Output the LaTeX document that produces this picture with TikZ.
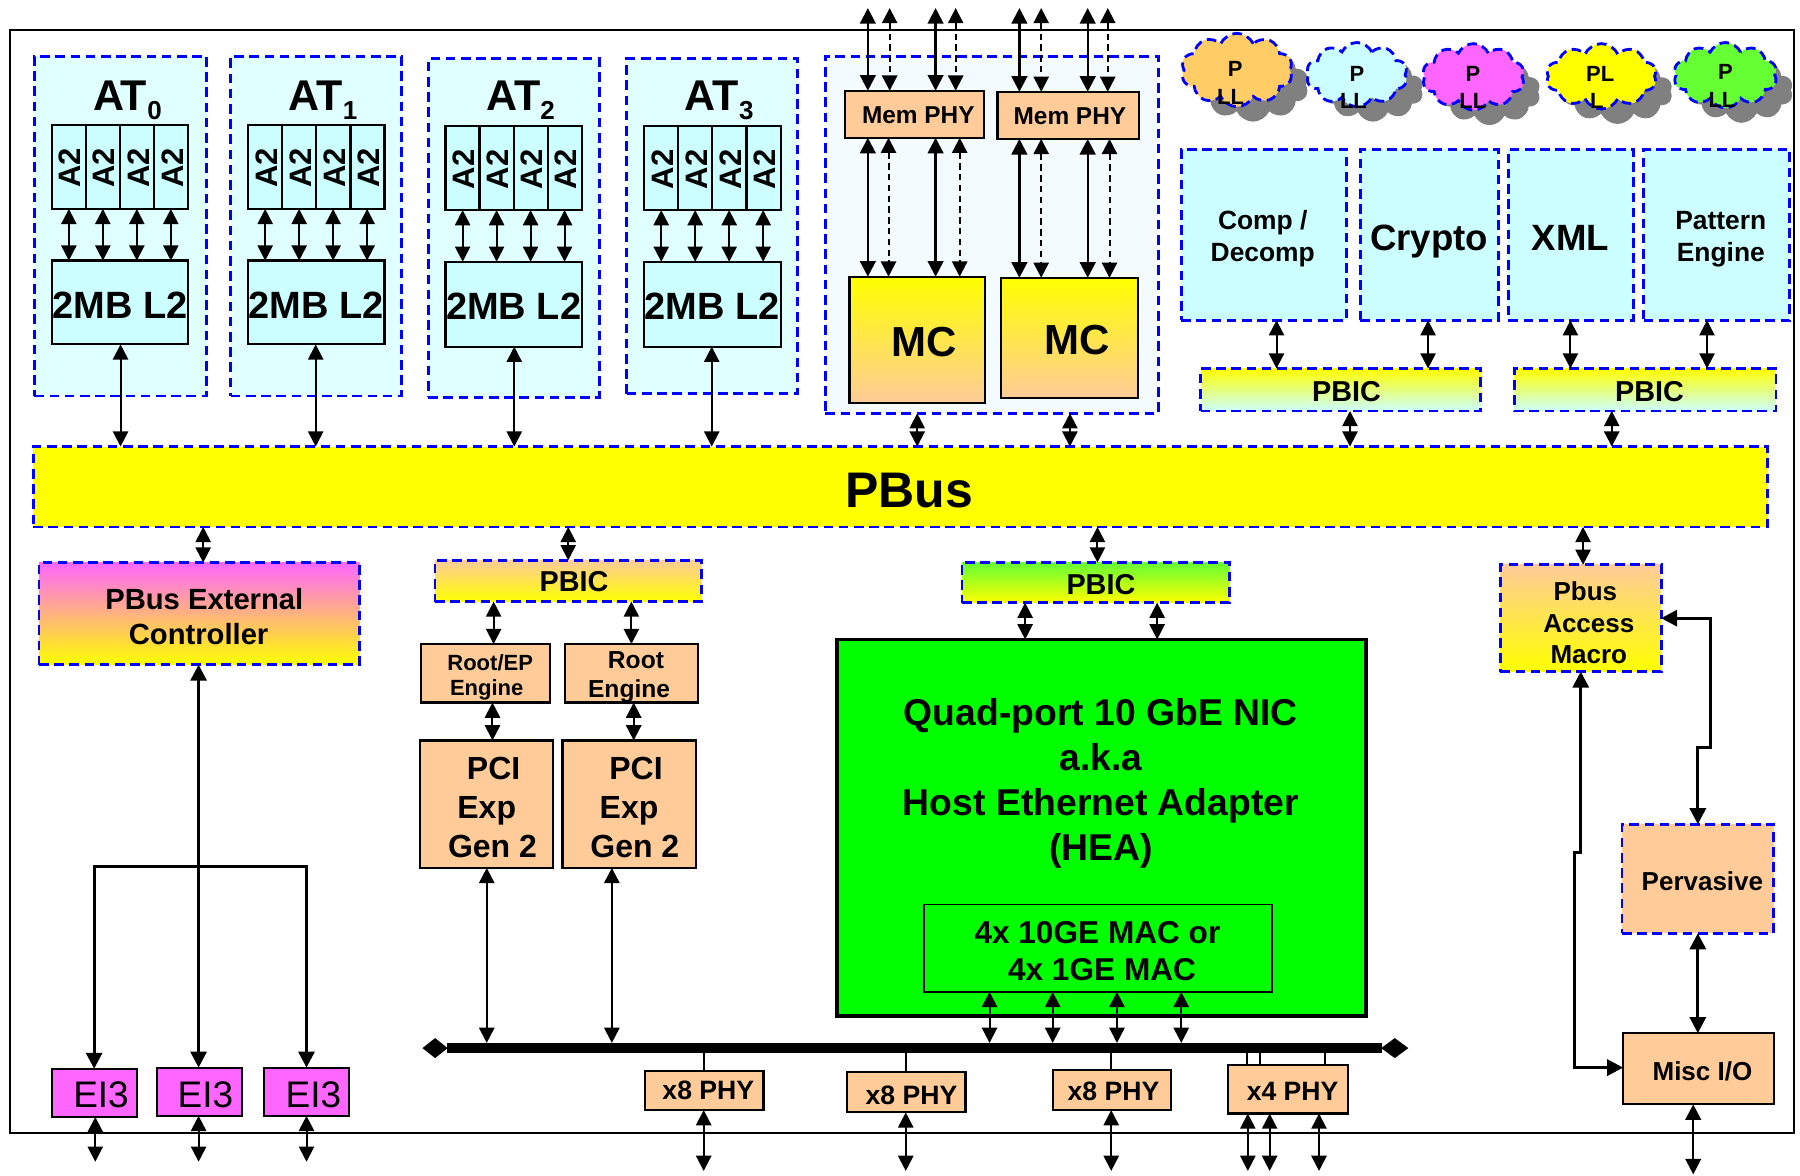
\documentclass[tikz,border=0pt]{standalone}
\usepackage{fontspec}
\setmainfont{Liberation Sans}
\usetikzlibrary{arrows.meta,shapes.geometric,shapes.symbols}
\tikzset{
  plainbox/.style={rectangle,draw=black,line width=1.1pt,inner sep=0pt,outer sep=0pt},
  dashbox/.style={rectangle,draw=blu,line width=1.4pt,dash pattern=on 4.8pt off 2.8pt,inner sep=0pt,outer sep=0pt},
  lbl/.style={inner sep=0pt,outer sep=0pt,align=center,text=black},
  dbl/.style={arrows={Triangle[width=7.6pt,length=7.6pt]-Triangle[width=7.6pt,length=7.6pt]},line width=1pt,draw=black},
  tdbl/.style={arrows={Triangle[width=8pt,length=8pt]-Triangle[width=8pt,length=8pt]},line width=1.5pt,draw=black},
  ddbl/.style={dbl,dash pattern=on 3.2pt off 2.2pt},
  mdbl/.style={arrows={Triangle[width=7.8pt,length=7.8pt]-Triangle[width=7.8pt,length=7.8pt]},line width=1.2pt,draw=black},
  stub/.style={line width=1pt,draw=black},
  cloudfill/.style={cloud,cloud puffs=10,cloud puff arc=130,cloud ignores aspect,inner sep=0pt,outer sep=0pt},
}
\definecolor{peach}{HTML}{FFCC99}
\definecolor{pale}{HTML}{CCFFFF}
\definecolor{paler}{HTML}{E0FFFF}
\definecolor{memb}{HTML}{F4FBFF}
\definecolor{mag}{HTML}{FF66FF}
\definecolor{lime}{HTML}{66FF33}
\definecolor{grn}{HTML}{00FF00}
\definecolor{shad}{HTML}{808080}
\definecolor{orng}{HTML}{FFCC66}
\definecolor{yel}{HTML}{FFFF00}
\definecolor{blu}{HTML}{0000FF}
% name x1 y1 x2 y2 style
\def\boxat#1#2#3#4#5#6{\pgfmathsetmacro\bw{(#4-#2)*0.574}\pgfmathsetmacro\bh{(#5-#3)*0.574}%
  \node[#6,minimum width=\bw pt,minimum height=\bh pt] (#1) at ({(#2+#4)/2},{(#3+#5)/2}) {};}
% name x y size text
\def\txt#1#2#3#4#5{\node[lbl,font=\bfseries\fontsize{#4}{#4}\selectfont] (#1) at ({#2},{#3}) {#5};}
% style x from to
\def\vconn#1#2#3#4{\coordinate (tmpx) at (#2,0); \draw[#1] (#3 -| tmpx) -- (#4 -| tmpx);}
% name x1 y1 x2 y2 colour
\def\cloudat#1#2#3#4#5#6{\pgfmathsetmacro\bw{(#4-#2)*0.574}\pgfmathsetmacro\bh{(#5-#3)*0.574}%
  \node[cloudfill,fill=shad,minimum width=\bw pt,minimum height=\bh pt] (#1s) at ({(#2+#4)/2+14},{(#3+#5)/2+13}) {};
  \node[cloudfill,fill=#6,draw=blu,line width=1.4pt,dash pattern=on 4.8pt off 2.8pt,minimum width=\bw pt,minimum height=\bh pt] (#1) at ({(#2+#4)/2},{(#3+#5)/2}) {};}
\begin{document}
\begin{tikzpicture}[x=0.574pt,y=-0.574pt]
\useasboundingbox (0,0) rectangle (1568,1023.6);
\fill[white] (0,0) rectangle (1568,1023.6);
\coordinate (ytop) at (0,7);
\coordinate (ybotA) at (0,1012);
\coordinate (ybotB) at (0,1020);
\coordinate (ybotC) at (0,1023);
\draw[line width=1pt,black] (9,26) rectangle (1563,987);

% AT blocks
\foreach \i/\xa/\ya/\xb/\yb/\gx/\gy/\gz/\ly/\lz in {
  0/30/49/180/345/45/109/182/227/300,
  1/201/49/350/345/216/109/182/227/300,
  2/373/51/522/346/388/110/183/228/302,
  3/546/51/695/343/561/110/183/228/302}{
  \boxat{AT\i}{\xa}{\ya}{\xb}{\yb}{dashbox,fill=paler}
  \foreach \k in {0,1,2,3}{
    \pgfmathsetmacro\ca{\gx+\k*29.75}
    \pgfmathsetmacro\cb{\gx+(\k+1)*29.75}
    \boxat{A\i c\k}{\ca}{\gy}{\cb}{\gz}{plainbox,fill=pale}
    \pgfmathsetmacro\cm{(\ca+\cb)/2}
    \node[lbl,rotate=90,font=\bfseries\fontsize{15.5}{15.5}\selectfont] (A\i t\k) at ({\cm+1},{(\gy+\gz)/2+1}) {A2};
  }
  \pgfmathsetmacro\cx{\gx+119}
  \boxat{L\i}{\gx}{\ly}{\cx}{\lz}{plainbox,fill=pale}
  \txt{L\i t}{\gx+59.5}{(\ly+\lz)/2+2}{19}{2MB L2}
  \foreach \k in {0,1,2,3}{
    \pgfmathsetmacro\ax{\gx+15+\k*29.6}
    \vconn{dbl}{\ax}{A\i c\k.south}{L\i.north}
  }
  \txt{AT\i t}{(\xa+\xb)/2+6}{87}{21.5}{AT\raisebox{-4.5pt}{\fontsize{13}{13}\selectfont\i}}
}

% Mem block
\boxat{Mem}{719}{49}{1009}{360}{dashbox,fill=memb}
\boxat{PHY1}{736}{79}{857}{120}{plainbox,fill=peach}
\boxat{PHY2}{869}{80}{992}{121}{plainbox,fill=peach}
\txt{PHY1t}{800}{100}{12.2}{Mem PHY}
\txt{PHY2t}{932}{101}{12.2}{Mem PHY}
\boxat{MC1}{740}{241}{858}{351}{plainbox,top color=yel,bottom color=peach}
\boxat{MC2}{872}{242}{991}{347}{plainbox,top color=yel,bottom color=peach}
\txt{MC1t}{805}{298}{21}{MC}
\txt{MC2t}{938}{296}{21}{MC}
\vconn{mdbl}{756}{ytop}{PHY1.north}
\vconn{ddbl}{775}{ytop}{PHY1.north}
\vconn{mdbl}{815}{ytop}{PHY1.north}
\vconn{ddbl}{832.5}{ytop}{PHY1.north}
\vconn{mdbl}{888}{ytop}{PHY2.north}
\vconn{ddbl}{907}{ytop}{PHY2.north}
\vconn{mdbl}{947.5}{ytop}{PHY2.north}
\vconn{ddbl}{965}{ytop}{PHY2.north}
\vconn{mdbl}{756}{PHY1.south}{MC1.north}
\vconn{ddbl}{774}{PHY1.south}{MC1.north}
\vconn{mdbl}{815}{PHY1.south}{MC1.north}
\vconn{ddbl}{836}{PHY1.south}{MC1.north}
\vconn{mdbl}{888}{PHY2.south}{MC2.north}
\vconn{ddbl}{907}{PHY2.south}{MC2.north}
\vconn{mdbl}{947.5}{PHY2.south}{MC2.north}
\vconn{ddbl}{966.5}{PHY2.south}{MC2.north}

% Clouds
\cloudat{Cl1}{1029}{29}{1126}{93}{orng}
\cloudat{Cl2}{1138}{37}{1226}{93}{pale}
\cloudat{Cl3}{1239}{38}{1328}{96}{mag}
\cloudat{Cl4}{1347}{38}{1443}{95}{yel}
\cloudat{Cl5}{1458}{37}{1548}{94}{lime}
\txt{Cl1a}{1076}{60}{11}{P}
\txt{Cl1b}{1072}{84}{11}{LL}
\txt{Cl2a}{1182}{64}{11}{P}
\txt{Cl2b}{1179}{88}{11}{LL}
\txt{Cl3a}{1283}{64}{11}{P}
\txt{Cl3b}{1283}{88}{11}{LL}
\txt{Cl4a}{1394}{64}{11}{PL}
\txt{Cl4b}{1391}{88}{11}{L}
\txt{Cl5a}{1503}{63}{11}{P}
\txt{Cl5b}{1500}{87}{11}{LL}

% Accelerators
\boxat{Comp}{1029}{130}{1173}{279}{dashbox,fill=pale}
\boxat{Cry}{1185}{130}{1305}{279}{dashbox,fill=pale}
\boxat{XML}{1314}{130}{1423}{279}{dashbox,fill=pale}
\boxat{Pat}{1432}{130}{1559}{279}{dashbox,fill=pale}
\node[lbl,font=\bfseries\fontsize{13.2}{16}\selectfont] (Compt) at (1100,208) {Comp /\\Decomp};
\txt{Cryt}{1245}{210}{18.3}{Crypto}
\txt{XMLt}{1368}{207}{18.3}{XML}
\node[lbl,font=\bfseries\fontsize{13.2}{16}\selectfont] (Patt) at (1499,208) {Pattern\\Engine};
\boxat{PB1}{1046}{321}{1290}{358}{dashbox,top color=yel,bottom color=pale}
\boxat{PB2}{1319}{321}{1547}{358}{dashbox,top color=yel,bottom color=pale}
\txt{PB1t}{1173}{341}{14.4}{PBIC}
\txt{PB2t}{1437}{341}{14.4}{PBIC}

% PBus
\boxat{PBus}{29}{389}{1540}{459}{dashbox,fill=yel}
\txt{PBust}{792}{427}{25}{PBus}
\vconn{dbl}{105}{L0.south}{PBus.north}
\vconn{dbl}{275}{L1.south}{PBus.north}
\vconn{dbl}{448}{L2.south}{PBus.north}
\vconn{dbl}{620}{L3.south}{PBus.north}
\vconn{dbl}{799}{Mem.south}{PBus.north}
\vconn{dbl}{932}{Mem.south}{PBus.north}
\vconn{dbl}{1112}{Comp.south}{PB1.north}
\vconn{dbl}{1244}{Cry.south}{PB1.north}
\vconn{dbl}{1368}{XML.south}{PB2.north}
\vconn{dbl}{1487}{Pat.south}{PB2.north}
\vconn{dbl}{1176}{PB1.south}{PBus.north}
\vconn{dbl}{1404}{PB2.south}{PBus.north}

% Lower row
\boxat{PE}{34}{490}{313}{579}{dashbox,top color=mag,bottom color=yel}
\txt{PEa}{178}{522}{14.6}{PBus External}
\txt{PEb}{173}{552}{14.6}{Controller}
\boxat{PB3}{379}{488}{611}{524}{dashbox,top color=peach,bottom color=yel}
\txt{PB3t}{500}{507}{14.4}{PBIC}
\boxat{PB4}{838}{490}{1071}{525}{dashbox,top color=lime,bottom color=yel}
\txt{PB4t}{959}{509}{14.4}{PBIC}
\boxat{PAM}{1307}{492}{1447}{585}{dashbox,top color=peach,bottom color=yel}
\txt{PAMa}{1381}{515}{13}{Pbus}
\txt{PAMb}{1384}{543}{13}{Access}
\txt{PAMc}{1384}{570}{13}{Macro}
\vconn{dbl}{177}{PBus.south}{PE.north}
\vconn{dbl}{495}{PBus.south}{PB3.north}
\vconn{dbl}{956}{PBus.south}{PB4.north}
\vconn{dbl}{1379}{PBus.south}{PAM.north}

% PCI
\boxat{RE1}{367}{561}{479}{612}{plainbox,fill=peach}
\boxat{RE2}{492}{561}{608}{612}{plainbox,fill=peach}
\txt{RE1a}{427}{577}{11}{Root/EP}
\txt{RE1b}{424}{601}{11}{Engine}
\txt{RE2a}{554}{575}{12.3}{Root}
\txt{RE2b}{548}{602}{12.3}{Engine}
\boxat{PCI1}{366}{645}{482}{756}{plainbox,fill=peach}
\boxat{PCI2}{490}{645}{606}{756}{plainbox,fill=peach}
\txt{P1a}{430}{669}{16}{PCI}
\txt{P1b}{424}{706}{16}{Exp}
\txt{P1c}{429}{737}{16}{Gen 2}
\txt{P2a}{554}{669}{16}{PCI}
\txt{P2b}{548}{706}{16}{Exp}
\txt{P2c}{553}{737}{16}{Gen 2}
\vconn{dbl}{430}{PB3.south}{RE1.north}
\vconn{dbl}{550}{PB3.south}{RE2.north}
\vconn{dbl}{429}{RE1.south}{PCI1.north}
\vconn{dbl}{552}{RE2.south}{PCI2.north}

% HEA
\boxat{HEA}{729}{557}{1190}{885}{plainbox,line width=1.8pt,fill=grn}
\node[lbl,font=\bfseries\fontsize{18.66}{22.4}\selectfont] (HEAt) at (959,682.5) {Quad-port 10 GbE NIC\\a.k.a\\Host Ethernet Adapter\\(HEA)};
\boxat{MAC}{805}{788}{1108}{864}{plainbox,line width=0.8pt}
\txt{MACa}{956}{812}{15.8}{4x 10GE MAC or}
\txt{MACb}{960}{845}{15.8}{4x 1GE MAC}
\vconn{dbl}{893}{PB4.south}{HEA.north}
\vconn{dbl}{1008}{PB4.south}{HEA.north}

% Bus
\boxat{Bus}{389}{908.5}{1204}{917.5}{rectangle,fill=black,inner sep=0pt,outer sep=0pt}
\node[diamond,fill=black,inner sep=0pt,outer sep=0pt,minimum width=12.6pt,minimum height=10pt] (BusL) at (379,913) {};
\node[diamond,fill=black,inner sep=0pt,outer sep=0pt,minimum width=13.6pt,minimum height=10pt] (BusR) at (1215,913) {};
\vconn{dbl}{424}{PCI1.south}{Bus.north}
\vconn{dbl}{533}{PCI2.south}{Bus.north}
\vconn{dbl}{862}{MAC.south}{Bus.north}
\vconn{dbl}{917}{MAC.south}{Bus.north}
\vconn{dbl}{973}{MAC.south}{Bus.north}
\vconn{dbl}{1029}{MAC.south}{Bus.north}

% PHYs
\boxat{X1}{562}{933}{665}{967}{plainbox,fill=peach}
\boxat{X2}{738}{934}{841}{969}{plainbox,fill=peach}
\boxat{X3}{917}{932}{1020}{967}{plainbox,fill=peach}
\boxat{X4}{1070}{928}{1174}{970}{plainbox,fill=peach}
\txt{X1t}{617}{950}{13.3}{x8 PHY}
\txt{X2t}{794}{954}{13.3}{x8 PHY}
\txt{X3t}{970}{951}{13.3}{x8 PHY}
\txt{X4t}{1126}{951}{13.3}{x4 PHY}
\vconn{stub}{613}{Bus.south}{X1.north}
\vconn{stub}{789}{Bus.south}{X2.north}
\vconn{stub}{968}{Bus.south}{X3.north}
\vconn{stub}{1086}{Bus.south}{X4.north}
\vconn{stub}{1098}{Bus.south}{X4.north}
\vconn{stub}{1154}{Bus.south}{X4.north}
\vconn{dbl}{613}{X1.south}{ybotB}
\vconn{dbl}{789}{X2.south}{ybotB}
\vconn{dbl}{968}{X3.south}{ybotB}
\vconn{dbl}{1087}{X4.south}{ybotB}
\vconn{dbl}{1106}{X4.south}{ybotB}
\vconn{dbl}{1149}{X4.south}{ybotB}

% EI3
\boxat{EI1}{45}{931}{119}{973}{plainbox,fill=mag}
\boxat{EI2}{137}{930}{211}{972}{plainbox,fill=mag}
\boxat{EI3}{230}{930}{304}{972}{plainbox,fill=mag}
\node[lbl,font=\fontsize{18.5}{18.5}\selectfont] (EI1t) at (88,954) {EI3};
\node[lbl,font=\fontsize{18.5}{18.5}\selectfont] (EI2t) at (179,954) {EI3};
\node[lbl,font=\fontsize{18.5}{18.5}\selectfont] (EI3t) at (273,954) {EI3};
\vconn{dbl}{83}{EI1.south}{ybotA}
\vconn{dbl}{173}{EI2.south}{ybotA}
\vconn{dbl}{267}{EI3.south}{ybotA}
\vconn{tdbl}{173}{PE.south}{EI2.north}
\coordinate (b1) at (82,755);
\coordinate (b2) at (267,755);
\draw[tdbl] (EI1.north -| b1) -- (b1) -- (b2) -- (EI3.north -| b2);

% Right side
\boxat{Perv}{1413}{718}{1545}{813}{dashbox,fill=peach}
\txt{Pervt}{1483}{768}{13}{Pervasive}
\boxat{Misc}{1414}{900}{1545}{962}{plainbox,fill=peach}
\txt{Misct}{1483}{933}{13}{Misc I/O}
\coordinate (c1) at (1490,538.5);
\coordinate (c2) at (1490,651);
\coordinate (c3) at (1479,651);
\draw[tdbl] (PAM.east) -- (c1) -- (c2) -- (c3) -- (Perv.north -| c3);
\coordinate (d1) at (1377,742.6);
\coordinate (d2) at (1371.4,742.6);
\coordinate (d3) at (1371.4,930);
\draw[tdbl] (PAM.south -| d1) -- (d1) -- (d2) -- (d3) -- (Misc.west |- d3);
\vconn{tdbl}{1479}{Perv.south}{Misc.north}
\vconn{mdbl}{1475}{Misc.south}{ybotC}
\end{tikzpicture}
\end{document}
